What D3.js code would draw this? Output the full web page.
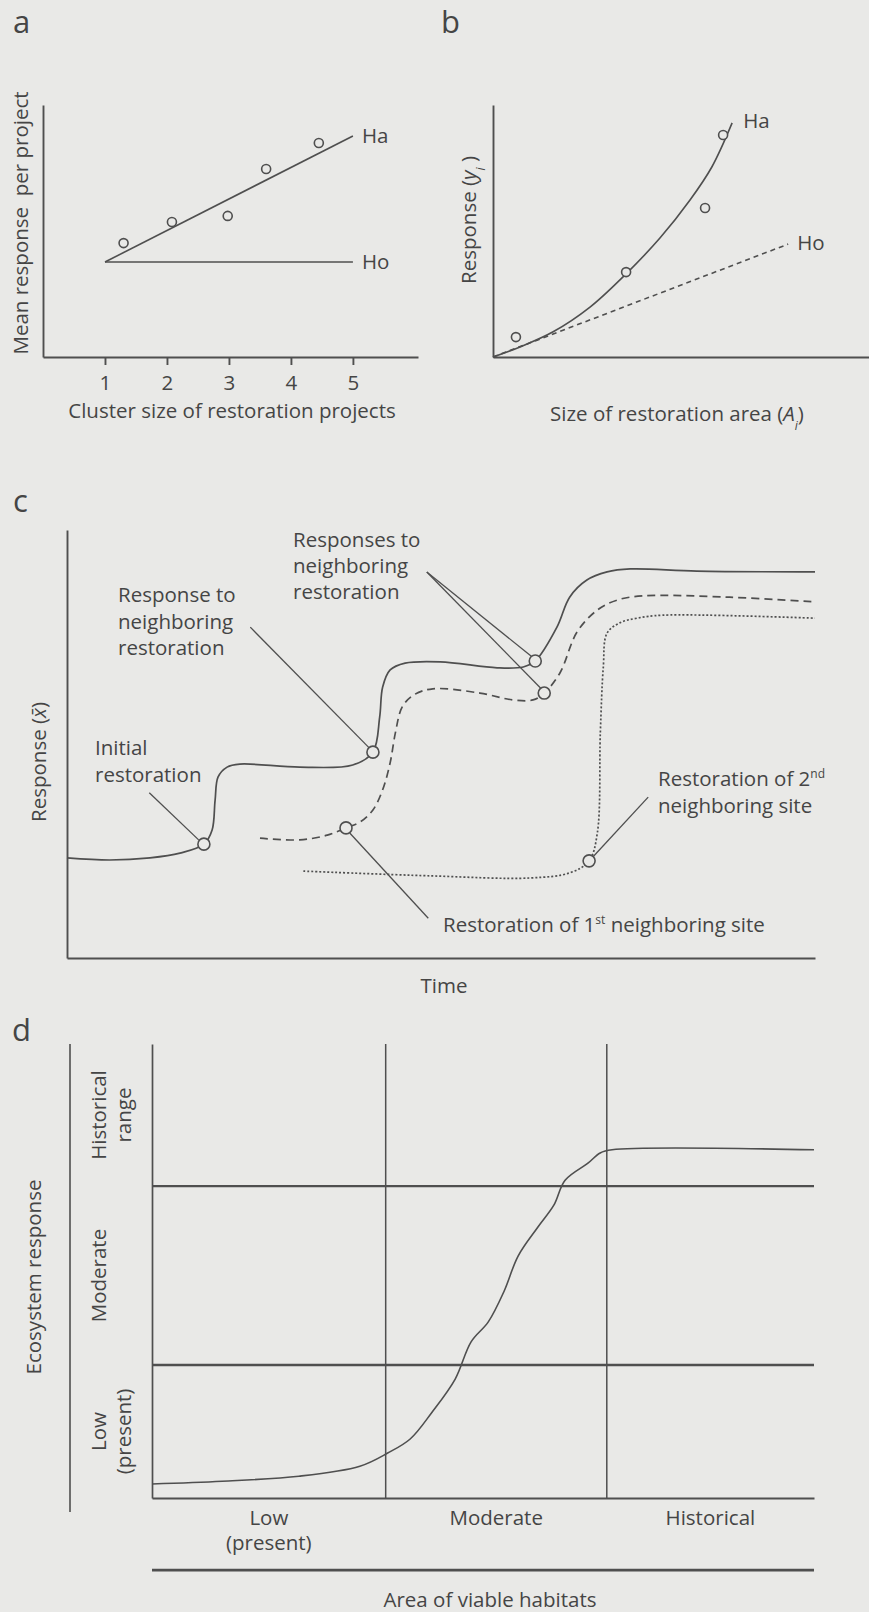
<!DOCTYPE html>
<html>
<head>
<meta charset="utf-8">
<style>
  html, body { margin: 0; padding: 0; background: #e9e9e7; }
  svg { display: block; }
  text { font-family: "Open Sans", "DejaVu Sans", sans-serif; fill: #454545; font-size: 20.5px; }
</style>
</head>
<body>
<div id="chart"></div>
<script src="https://cdn.jsdelivr.net/npm/d3@7"></script>
<script>
// panel a: cluster size vs mean response per project
const clusterTicks = [1, 2, 3, 4, 5];
const clusterX = [1.3, 2.08, 2.98, 3.6, 4.45];
const clusterY = [4.52, 5.36, 5.6, 7.46, 8.49];
const clusterHa = [[1, 3.77], [5, 8.77]];
const clusterHo = [[1, 3.77], [5, 3.77]];

// panel b: size of restoration area vs response
const areaX = [0.61, 3.54, 5.64, 6.12];
const areaY = [0.79, 3.37, 5.91, 8.81];
const areaHaX = [0, 0.72, 1.6, 2.58, 3.56, 4.44, 5.24, 5.82, 6.36];
const areaHaY = [0, 0.40, 1.0, 1.98, 3.33, 4.72, 6.23, 7.54, 9.29];
const areaHo = [[0, 0], [7.85, 4.48]];

// panel c: response over time (three sites)
const solidT = [0, 5.7, 11.1, 15.1, 18.3, 19.4, 19.8, 20.2, 21.4, 23.1, 31.1, 38.2, 40.9, 41.8, 42.2, 43.2, 45.2, 49.9, 57.5, 61.0, 62.6, 65.5, 67.2, 69.5, 72.2, 75.3, 84.2, 100];
const solidR = [23.4, 22.9, 23.4, 24.5, 26.6, 29.9, 36.9, 42.3, 44.6, 45.3, 44.6, 45.1, 48.1, 56.3, 63.3, 67.3, 68.9, 69.2, 67.8, 68.0, 69.4, 77.3, 84.3, 88.3, 90.2, 90.9, 90.4, 90.2];
const dashedT = [25.8, 31.1, 34.8, 37.3, 39.2, 40.9, 42.2, 43.2, 43.9, 44.8, 46.3, 48.9, 55.2, 59.6, 62.3, 63.8, 65.9, 68.2, 70.9, 73.5, 77.0, 88.6, 100];
const dashedR = [28.0, 27.6, 28.7, 30.4, 31.8, 34.6, 39.3, 45.6, 52.6, 58.6, 61.4, 62.9, 61.9, 60.3, 60.3, 61.9, 66.6, 76.2, 81.3, 83.6, 84.6, 84.3, 83.2];
const dottedT = [31.6, 48.5, 61.9, 67.2, 69.8, 70.9, 71.3, 71.7, 72.2, 73.9, 76.2, 79.7, 100];
const dottedR = [20.3, 19.2, 18.7, 19.9, 22.7, 29.2, 52.6, 68.0, 75.9, 78.3, 79.4, 80.1, 79.4];
const eventT = [18.3, 40.9, 62.6, 37.3, 63.8, 69.8];
const eventR = [26.6, 48.1, 69.4, 30.4, 61.9, 22.7];
const leaderFrom = [[11.0, 38.6], [24.5, 77.3], [48.1, 90.2], [48.1, 90.2], [37.8, 29.2], [77.7, 37.6]];
const leaderTo = [[17.6, 27.6], [40.4, 49.1], [62.2, 70.3], [63.4, 62.9], [48.3, 9.3], [70.3, 23.6]];

// panel d: area of viable habitats vs ecosystem response
const habitatX = [0, 10.6, 22.2, 31.4, 35.6, 39.0, 42.3, 45.8, 48.2, 50.8, 53.2, 55.3, 58.3, 60.7, 62.4, 65.9, 67.7, 69.5, 100];
const habitatY = [3.1, 3.7, 4.8, 7.0, 9.9, 13.0, 18.9, 26.2, 34.4, 38.8, 45.6, 53.3, 59.7, 64.5, 70.0, 73.8, 76.0, 76.7, 76.7];
const areaBreaks = [35.3, 68.7];
const responseBreaks = [29.3, 68.7];
const areaLabels = [["Low", "(present)"], ["Moderate"], ["Historical"]];
const responseLabels = [["Low", "(present)"], ["Moderate"], ["Historical", "range"]];

const W = 869, H = 1612;
const ink = "#4f4f4f";
const paper = "#e9e9e7";

const svg = d3.select("#chart").append("svg")
    .attr("width", W)
    .attr("height", H);

svg.append("rect").attr("width", W).attr("height", H).attr("fill", paper);

function styleAxis(g, w) {
    g.selectAll("path, line").attr("stroke", ink).attr("stroke-width", w);
    g.selectAll("text").style("font-size", "20.5px");
}

function letter(x, y, s) {
    svg.append("text").attr("x", x).attr("y", y).style("font-size", "31px").text(s);
}

function lines(g, x, y, arr, anchor, gap) {
    const t = g.append("text").attr("x", x).attr("y", y).attr("text-anchor", anchor || "start");
    arr.forEach((s, i) => t.append("tspan").attr("x", x).attr("dy", i ? gap : 0).text(s));
    return t;
}

function rotLines(g, x, y, arr, gap) {
    const t = g.append("text").attr("transform", `translate(${x},${y}) rotate(-90)`).attr("text-anchor", "middle");
    arr.forEach((s, i) => t.append("tspan").attr("x", 0).attr("y", i * gap).text(s));
    return t;
}

function circles(g, xs, ys, sx, sy, r) {
    g.selectAll(null).data(xs).join("circle")
        .attr("cx", d => sx(d))
        .attr("cy", (d, i) => sy(ys[i]))
        .attr("r", r)
        .attr("fill", paper)
        .attr("stroke", ink)
        .attr("stroke-width", 1.6);
}

// ---------- a ----------
letter(13, 33, "a");
const xA = d3.scaleLinear().domain([0, 6.05]).range([43, 418]);
const yA = d3.scaleLinear().domain([0, 10]).range([357, 105]);
const gA = svg.append("g");
gA.append("g").attr("transform", `translate(0,${yA(0)})`)
    .call(d3.axisBottom(xA).tickValues(clusterTicks).tickSize(8).tickSizeOuter(0).tickPadding(10).tickFormat(d3.format("d")))
    .call(g => styleAxis(g, 1.9));
gA.append("g").attr("transform", `translate(${xA(0)},0)`)
    .call(d3.axisLeft(yA).tickValues([]).tickSizeOuter(0))
    .call(g => styleAxis(g, 1.9));
const lineA = d3.line().x(d => xA(d[0])).y(d => yA(d[1]));
[clusterHa, clusterHo].forEach(s => gA.append("path").attr("d", lineA(s)).attr("fill", "none").attr("stroke", ink).attr("stroke-width", 1.6));
circles(gA, clusterX, clusterY, xA, yA, 4.5);
gA.append("text").attr("x", xA(5) + 9).attr("y", yA(8.77) + 7).text("Ha");
gA.append("text").attr("x", xA(5) + 9).attr("y", yA(3.77) + 7).text("Ho");
gA.append("text").attr("transform", "translate(28,223) rotate(-90)").attr("text-anchor", "middle")
    .style("white-space", "pre").text("Mean response  per project");
gA.append("text").attr("x", 232).attr("y", 418).attr("text-anchor", "middle").text("Cluster size of restoration projects");

// ---------- b ----------
letter(441, 33, "b");
const xB = d3.scaleLinear().domain([0, 10]).range([493, 869]);
const yB = d3.scaleLinear().domain([0, 10]).range([357, 105]);
const gB = svg.append("g");
gB.append("g").attr("transform", `translate(0,${yB(0)})`)
    .call(d3.axisBottom(xB).tickValues([]).tickSizeOuter(0))
    .call(g => styleAxis(g, 1.9));
gB.append("g").attr("transform", `translate(${xB(0)},0)`)
    .call(d3.axisLeft(yB).tickValues([]).tickSizeOuter(0))
    .call(g => styleAxis(g, 1.9));
gB.append("path")
    .attr("d", d3.line().x(d => xB(d[0])).y(d => yB(d[1]))(areaHo))
    .attr("fill", "none").attr("stroke", ink).attr("stroke-width", 1.6).attr("stroke-dasharray", "5,4");
gB.append("path")
    .attr("d", d3.line().curve(d3.curveCatmullRom).x(d => xB(d)).y((d, i) => yB(areaHaY[i]))(areaHaX))
    .attr("fill", "none").attr("stroke", ink).attr("stroke-width", 1.6);
circles(gB, areaX, areaY, xB, yB, 4.5);
gB.append("text").attr("x", xB(6.36) + 11).attr("y", yB(9.29) + 5).text("Ha");
gB.append("text").attr("x", xB(7.85) + 9).attr("y", yB(4.48) + 6).text("Ho");
const yLabB = gB.append("text").attr("transform", "translate(476,220) rotate(-90)").attr("text-anchor", "middle");
yLabB.append("tspan").text("Response (");
yLabB.append("tspan").style("font-style", "italic").text("y");
yLabB.append("tspan").attr("baseline-shift", "sub").style("font-size", "12px").style("font-style", "italic").text("i");
yLabB.append("tspan").text(" )");
const xLabB = gB.append("text").attr("x", 677).attr("y", 421).attr("text-anchor", "middle");
xLabB.append("tspan").text("Size of restoration area (");
xLabB.append("tspan").style("font-style", "italic").text("A");
xLabB.append("tspan").attr("baseline-shift", "sub").style("font-size", "12px").style("font-style", "italic").text("i");
xLabB.append("tspan").text(")");

// ---------- c ----------
letter(13, 512, "c");
const xC = d3.scaleLinear().domain([0, 100]).range([67, 815]);
const yC = d3.scaleLinear().domain([0, 100]).range([958, 530]);
const gC = svg.append("g");
gC.append("g").attr("transform", `translate(0,${yC(0)})`)
    .call(d3.axisBottom(xC).tickValues([]).tickSizeOuter(0))
    .call(g => styleAxis(g, 1.9));
gC.append("g").attr("transform", `translate(${xC(0)},0)`)
    .call(d3.axisLeft(yC).tickValues([]).tickSizeOuter(0))
    .call(g => styleAxis(g, 1.9));

const lineC = d3.line().curve(d3.curveCatmullRom.alpha(0.5)).x(d => xC(d[0])).y(d => yC(d[1]));
const zip = (a, b) => a.map((d, i) => [d, b[i]]);
[[solidT, solidR, null], [dashedT, dashedR, "8,5"], [dottedT, dottedR, "2,2"]].forEach(([t, r, dash]) => {
    gC.append("path").attr("d", lineC(zip(t, r)))
        .attr("fill", "none").attr("stroke", ink).attr("stroke-width", 1.7)
        .attr("stroke-dasharray", dash);
});
leaderFrom.forEach((p, i) => {
    gC.append("line")
        .attr("x1", xC(p[0])).attr("y1", yC(p[1]))
        .attr("x2", xC(leaderTo[i][0])).attr("y2", yC(leaderTo[i][1]))
        .attr("stroke", ink).attr("stroke-width", 1.3);
});
circles(gC, eventT, eventR, xC, yC, 6);

lines(gC, 95, 755, ["Initial", "restoration"], "start", 27);
lines(gC, 118, 602, ["Response to", "neighboring", "restoration"], "start", 26.5);
lines(gC, 293, 547, ["Responses to", "neighboring", "restoration"], "start", 26);
const first = gC.append("text").attr("x", 443).attr("y", 932);
first.append("tspan").text("Restoration of 1");
first.append("tspan").attr("baseline-shift", "super").style("font-size", "12px").text("st");
first.append("tspan").text(" neighboring site");
const second = gC.append("text").attr("x", 658).attr("y", 786);
second.append("tspan").text("Restoration of 2");
second.append("tspan").attr("baseline-shift", "super").style("font-size", "12px").text("nd");
second.append("tspan").attr("x", 658).attr("dy", 27).text("neighboring site");
gC.append("text").attr("x", 444).attr("y", 993).attr("text-anchor", "middle").text("Time");
const yLabC = gC.append("text").attr("transform", "translate(46,762) rotate(-90)").attr("text-anchor", "middle");
yLabC.append("tspan").text("Response (");
yLabC.append("tspan").style("font-style", "italic").text("x\u0304");
yLabC.append("tspan").text(")");

// ---------- d ----------
letter(12, 1041, "d");
const xD = d3.scaleLinear().domain([0, 100]).range([152, 814]);
const yD = d3.scaleLinear().domain([0, 100]).range([1498, 1044]);
const gD = svg.append("g");

// outer bracket line for the response axis
gD.append("line")
    .attr("x1", 70).attr("x2", 70)
    .attr("y1", yD(100)).attr("y2", yD(-3.1))
    .attr("stroke", ink).attr("stroke-width", 1.6);

gD.append("g").attr("transform", `translate(0,${yD(0)})`)
    .call(d3.axisBottom(xD).tickValues([]).tickSizeOuter(0))
    .call(g => styleAxis(g, 2.1));
gD.append("g").attr("transform", `translate(${xD(0)},0)`)
    .call(d3.axisLeft(yD).tickValues([]).tickSizeOuter(0))
    .call(g => styleAxis(g, 1.7));

gD.selectAll(null).data(areaBreaks).join("line")
    .attr("x1", d => xD(d)).attr("x2", d => xD(d))
    .attr("y1", yD(0)).attr("y2", yD(100))
    .attr("stroke", ink).attr("stroke-width", 1.5);
gD.selectAll(null).data(responseBreaks).join("line")
    .attr("x1", xD(0)).attr("x2", xD(100))
    .attr("y1", d => yD(d)).attr("y2", d => yD(d))
    .attr("stroke", ink).attr("stroke-width", 2.3);

gD.append("path")
    .attr("d", d3.line().curve(d3.curveCatmullRom).x(d => xD(d)).y((d, i) => yD(habitatY[i]))(habitatX))
    .attr("fill", "none").attr("stroke", ink).attr("stroke-width", 1.6);

// area-axis bottom rule
gD.append("line")
    .attr("x1", xD(0)).attr("x2", xD(100))
    .attr("y1", yD(-15.9)).attr("y2", yD(-15.9))
    .attr("stroke", ink).attr("stroke-width", 2.7);

const areaEdges = [0, ...areaBreaks, 100];
areaLabels.forEach((arr, i) => {
    lines(gD, xD((areaEdges[i] + areaEdges[i + 1]) / 2), 1525, arr, "middle", 25);
});
const respEdges = [0, ...responseBreaks, 100];
responseLabels.forEach((arr, i) => {
    rotLines(gD, 106, yD((respEdges[i] + respEdges[i + 1]) / 2), arr, 25);
});
rotLines(gD, 41, 1277, ["Ecosystem response"], 0);
gD.append("text").attr("x", 490).attr("y", 1607).attr("text-anchor", "middle").text("Area of viable habitats");
</script>
</body>
</html>
